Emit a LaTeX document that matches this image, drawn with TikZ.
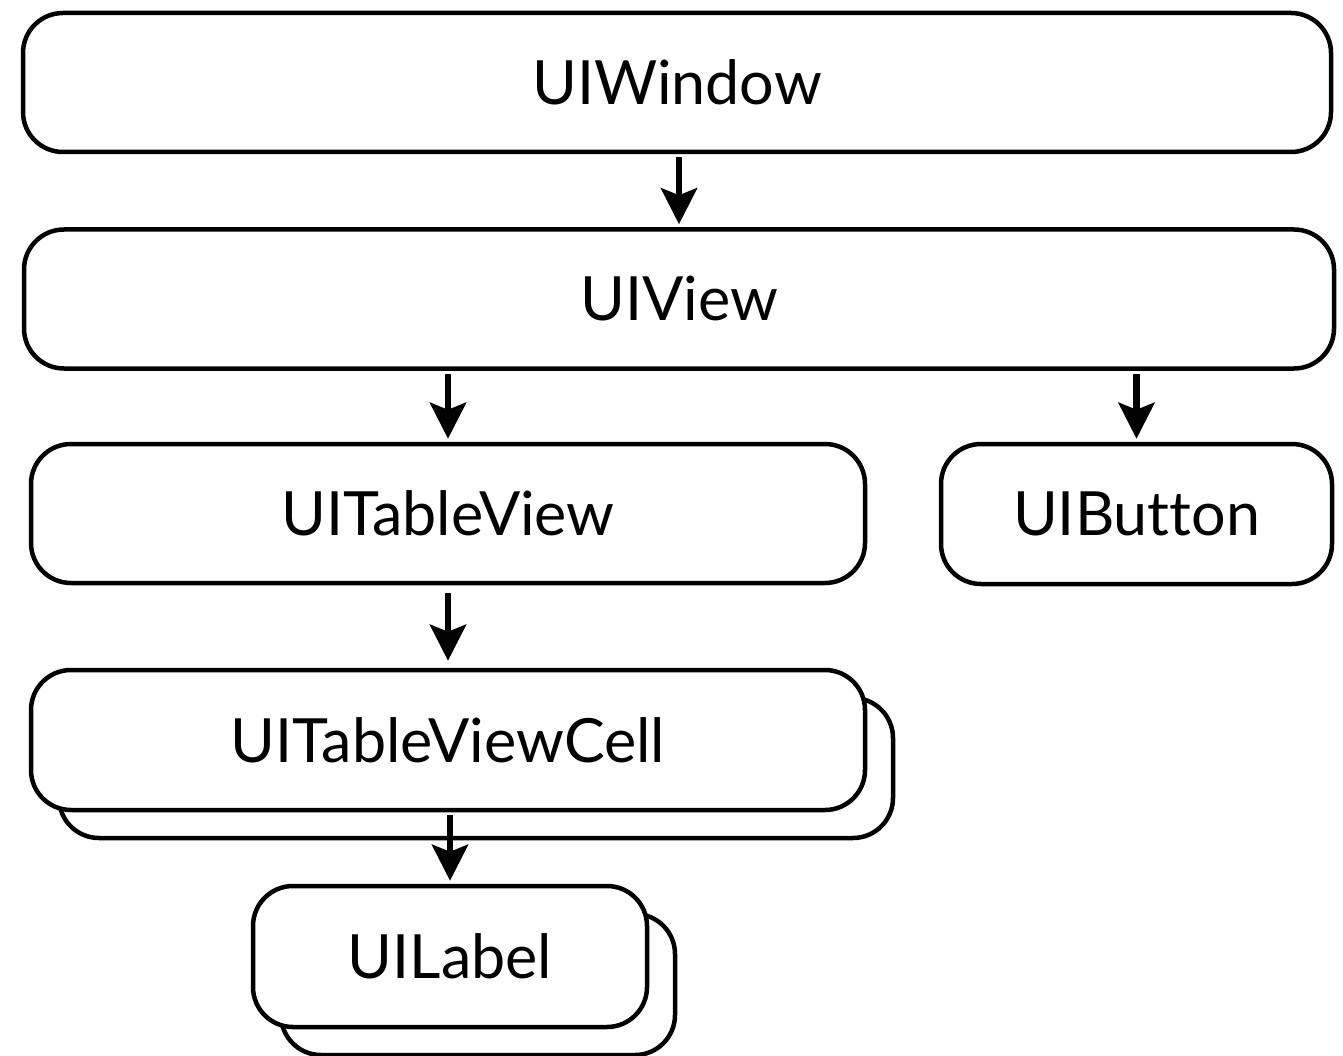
\documentclass[tikz,border=0pt]{standalone}
\usepackage{fontspec}
\setmainfont{Lato}[Ligatures=NoCommon]
\usetikzlibrary{arrows.meta, shadows}

\tikzset{
  viewbox/.style={draw, line width=4.5pt, rounded corners=40pt, fill=white,
    inner sep=0pt, minimum height=139pt, font=\fontsize{61}{72}\selectfont},
  stacked/.style={copy shadow={shadow xshift=28pt, shadow yshift=-28pt,
    draw=black, fill=white, line width=4.5pt}},
  link/.style={line width=6.5pt, -{Stealth[length=36pt, width=36pt, inset=7pt]},
    shorten <=3pt, shorten >=3pt}
}

\begin{document}
\begin{tikzpicture}[x=1pt, y=-1pt]
    \useasboundingbox (0,0) rectangle (1343,1056);
    \node[viewbox, minimum width=1308pt] (window) at (677,82.5) {UIWindow};
    \node[viewbox, minimum width=1310pt] (view) at (679,299) {UIView};
    \node[viewbox, minimum width=834pt] (table) at (448,513.5) {UITableView};
    \node[viewbox, minimum width=391pt, minimum height=140pt] (button) at (1136.5,514) {UIButton};
    \node[viewbox, stacked, minimum width=834pt, minimum height=140pt] (cell) at (448,740) {UITableViewCell};
    \node[viewbox, stacked, minimum width=394pt, minimum height=141pt] (label) at (450,956.5) {UILabel};
    \draw[link] (view.north |- window.south) -- (view.north);
    \draw[link] (table.north |- view.south) -- (table.north);
    \draw[link] (button.north |- view.south) -- (button.north);
    \draw[link, shorten <=8pt, shorten >=7pt] (cell.north |- table.south) -- (cell.north);
    \draw[link] (label.north |- cell.south) -- (label.north);
\end{tikzpicture}
\end{document}
